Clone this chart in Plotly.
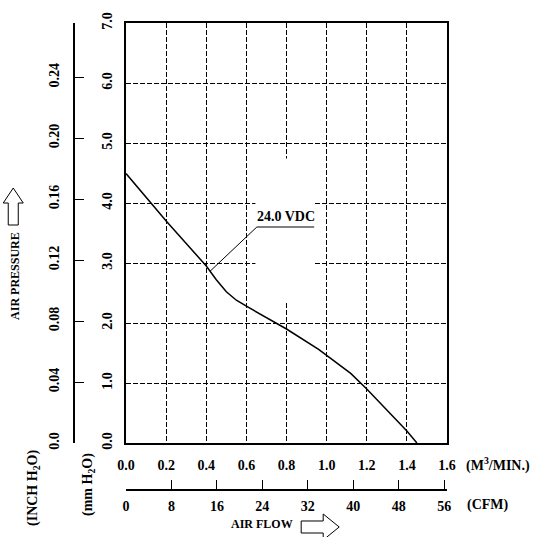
import plotly.graph_objects as go

# ---- data ----
flow_m3 = [0.0, 0.2, 0.4, 0.45, 0.5, 0.55, 0.6, 0.7, 0.8, 0.96, 1.12, 1.2, 1.4, 1.45]
pressure_mm = [4.49, 3.70, 2.95, 2.72, 2.52, 2.38, 2.28, 2.09, 1.90, 1.56, 1.16, 0.90, 0.20, 0.0]
series_name = "24.0 VDC"

m3_ticks = [0.0, 0.2, 0.4, 0.6, 0.8, 1.0, 1.2, 1.4, 1.6]
m3_labels = ["0.0", "0.2", "0.4", "0.6", "0.8", "1.0", "1.2", "1.4", "1.6"]
cfm_ticks = [0, 8, 16, 24, 32, 40, 48, 56]
cfm_labels = ["0", "8", "16", "24", "32", "40", "48", "56"]
mm_ticks = [0, 1, 2, 3, 4, 5, 6, 7]
mm_labels = ["0.0", "1.0", "2.0", "3.0", "4.0", "5.0", "6.0", "7.0"]
inch_ticks = [0.0, 0.04, 0.08, 0.12, 0.16, 0.20, 0.24]
inch_labels = ["0.0", "0.04", "0.08", "0.12", "0.16", "0.20", "0.24"]

M3_MAX = 1.6
MM_MAX = 7.0
CFM_PER_M3 = 35.3147
MM_PER_INCH = 25.4

# ---- layout geometry (pixels) ----
W, H = 535, 537
PL, PR, PT, PB = 74, 446.7, 23, 490      # paper area
AX_L, AX_B = 126, 443                    # main plot left / bottom


def px(x):
    return (x - PL) / (PR - PL)


def py(y):
    return (PB - y) / (PB - PT)


FONT = "Liberation Serif"
tick_font = dict(family=FONT, size=14, color="black", weight="bold")

fig = go.Figure()
fig.add_trace(go.Scatter(x=flow_m3, y=pressure_mm, mode="lines",
                         line=dict(color="black", width=1.5),
                         name=series_name, showlegend=False, hoverinfo="skip"))
# helper traces so the secondary axes get drawn
fig.add_trace(go.Scatter(x=[0], y=[0], xaxis="x2", yaxis="y", mode="markers",
                         marker=dict(opacity=0), showlegend=False, hoverinfo="skip"))
fig.add_trace(go.Scatter(x=[0], y=[0], xaxis="x", yaxis="y3", mode="markers",
                         marker=dict(opacity=0), showlegend=False, hoverinfo="skip"))

xdom = [px(AX_L), 1]
ydom = [py(AX_B), 1]

grid = dict(showgrid=True, gridcolor="black", gridwidth=1, griddash="5px,2px")

fig.update_layout(
    width=W, height=H,
    margin=dict(l=PL, r=W - PR, t=PT, b=H - PB, pad=0),
    paper_bgcolor="white", plot_bgcolor="white",
    showlegend=False,
    xaxis=dict(domain=xdom, range=[0, M3_MAX], tickvals=m3_ticks, ticktext=m3_labels,
               ticks="", showline=True, linecolor="black", linewidth=2, mirror=True,
               zeroline=False, tickfont=tick_font, ticklabelstandoff=8, anchor="y", **grid),
    yaxis=dict(domain=ydom, range=[0, MM_MAX], tickvals=mm_ticks, ticktext=mm_labels,
               ticks="", showline=True, linecolor="black", linewidth=2, mirror=True,
               zeroline=False, tickfont=tick_font, tickangle=-90, ticklabelstandoff=6,
               anchor="x", **grid),
    xaxis2=dict(overlaying="x", anchor="free", position=0, side="bottom",
                range=[0, M3_MAX * CFM_PER_M3], tickvals=cfm_ticks, ticktext=cfm_labels,
                ticks="inside", ticklen=9, tickwidth=1, tickcolor="black",
                showline=True, linecolor="black", linewidth=2, showgrid=False,
                zeroline=False, tickfont=tick_font, ticklabelstandoff=3),
    yaxis3=dict(overlaying="y", anchor="free", position=0, side="left",
                range=[0, MM_MAX / MM_PER_INCH], tickvals=inch_ticks, ticktext=inch_labels,
                ticks="inside", ticklen=9, tickwidth=1, tickcolor="black",
                showline=True, linecolor="black", linewidth=1.5, showgrid=False,
                zeroline=False, tickfont=tick_font, tickangle=-90, ticklabelstandoff=9),
)

# white gap behind the label (covers gridlines, below curve)
fig.add_shape(type="rect", xref="x", yref="y", x0=0.645, x1=0.935, y0=2.36, y1=4.74,
              fillcolor="white", line=dict(width=0), layer="between")
# leader line for label
fig.add_shape(type="line", xref="x", yref="y", x0=0.652, x1=0.938, y0=3.6, y1=3.6,
              line=dict(color="black", width=1))
fig.add_shape(type="line", xref="x", yref="y", x0=0.652, x1=0.418, y0=3.6, y1=2.86,
              line=dict(color="black", width=1))
fig.add_annotation(x=0.795, y=3.6, xref="x", yref="y", text=series_name, showarrow=False,
                   yanchor="bottom", yshift=1, font=dict(family=FONT, size=14, color="black", weight="bold"))


def ann(x, y, text, angle=0, size=13):
    fig.add_annotation(x=px(x), y=py(y), xref="paper", yref="paper", text=text,
                       showarrow=False, textangle=angle, xanchor="center", yanchor="middle",
                       font=dict(family=FONT, size=size, color="black", weight="bold"))


ann(498, 464, "(M<sup>3</sup>/MIN.)", size=14)
ann(488, 505, "(CFM)", size=14)
ann(262, 524, "AIR FLOW", size=12)
ann(15, 276, "AIR PRESSURE", angle=-90, size=12)
ann(33, 488, "(INCH H<sub>2</sub>O)", angle=-90, size=14)
ann(88, 485, "(mm H<sub>2</sub>O)", angle=-90, size=14)


def path(points):
    d = "M " + " L ".join(f"{px(a):.5f},{py(b):.5f}" for a, b in points) + " Z"
    return d


# up arrow (air pressure)
up = [(8.3, 225), (8.3, 203), (3.3, 203), (13.3, 188), (23.3, 203), (18.3, 203), (18.3, 225)]
fig.add_shape(type="path", xref="paper", yref="paper", path=path(up),
              line=dict(color="black", width=1), fillcolor="white")
# right arrow (air flow)
cy = 527
right = [(301, cy - 6), (323, cy - 6), (323, cy - 13), (339, cy), (323, cy + 13),
         (323, cy + 6), (301, cy + 6)]
fig.add_shape(type="path", xref="paper", yref="paper", path=path(right),
              line=dict(color="black", width=1), fillcolor="white")

fig.write_html("out.html")
